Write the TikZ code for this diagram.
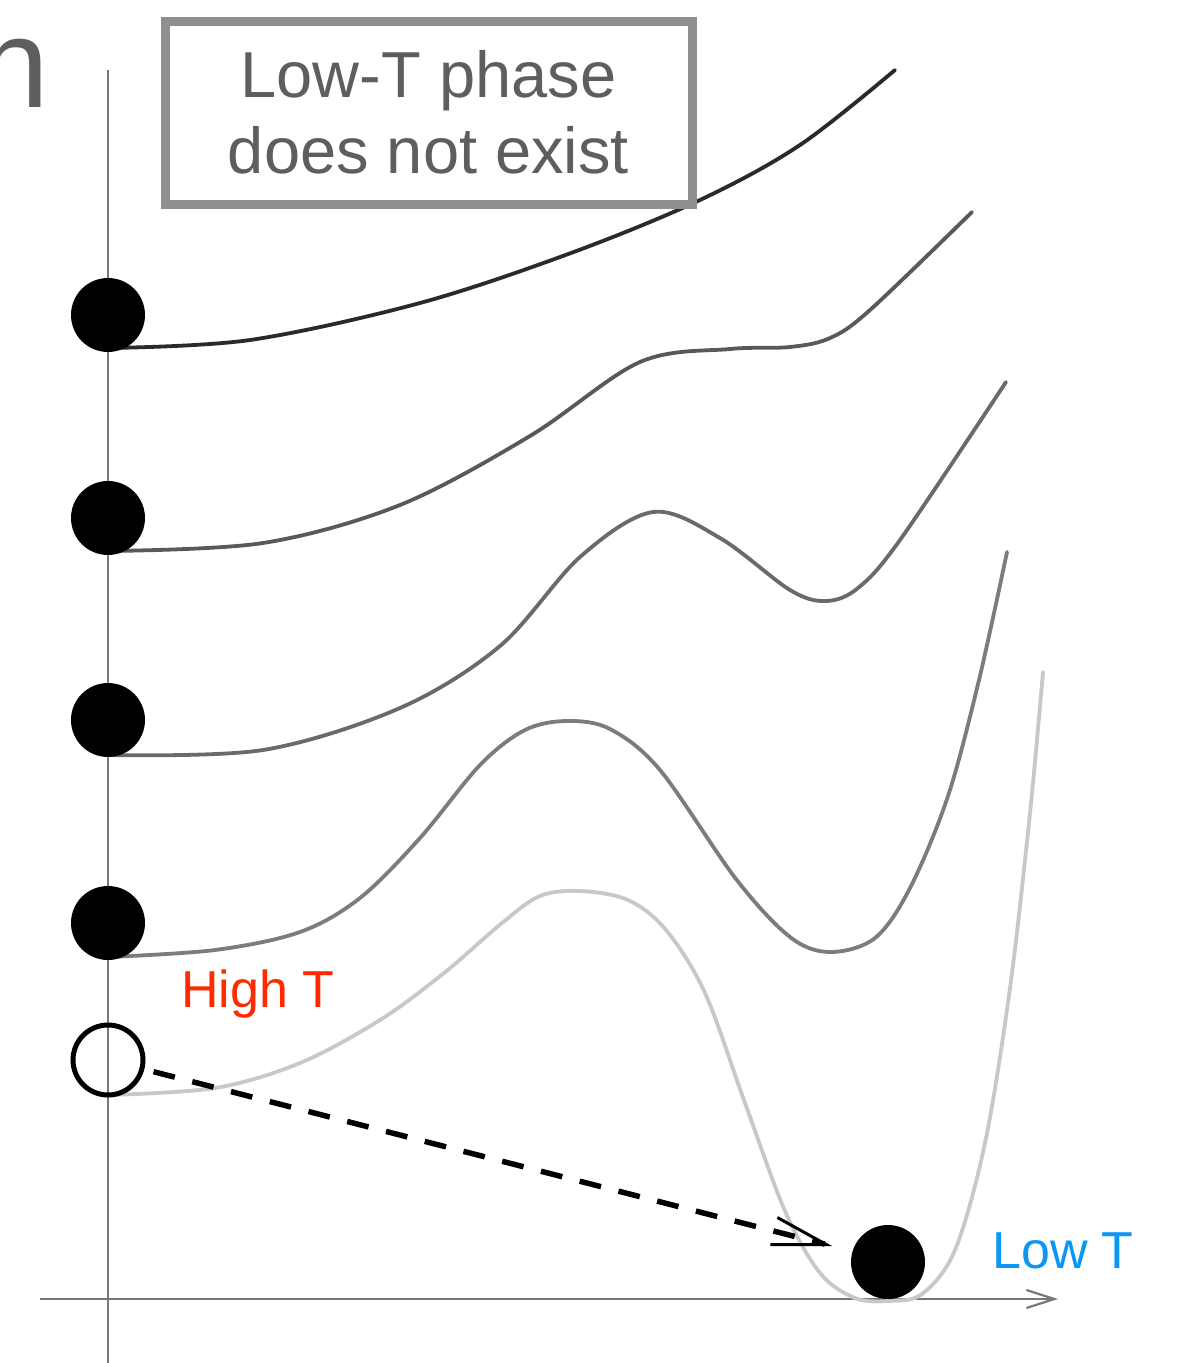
\documentclass[tikz,border=0pt]{standalone}
\usepackage{fontspec}
\setmainfont{Liberation Sans}
\usetikzlibrary{arrows.meta}
\definecolor{axisgray}{HTML}{777777}
\definecolor{boxgray}{HTML}{8F8F8F}
\definecolor{textgray}{HTML}{5E5E5E}
\definecolor{cA}{HTML}{2A2A2A}
\definecolor{cB}{HTML}{595959}
\definecolor{cC}{HTML}{6A6A6A}
\definecolor{cD}{HTML}{7C7C7C}
\definecolor{cE}{HTML}{C8C8C8}
\definecolor{hotred}{HTML}{FF2A00}
\definecolor{coldblue}{HTML}{0A96F5}
\begin{document}
\begin{tikzpicture}[x=1pt,y=-1pt,
  axisline/.style={draw=axisgray,line width=2.2pt},
  curve/.style={line width=3.8pt,line cap=round,line join=round},
  ball/.style={circle,fill=black,minimum size=74pt,inner sep=0pt,outer sep=0pt},
  openball/.style={circle,draw=black,line width=5pt,minimum size=70pt,inner sep=0pt,outer sep=2pt},
  labelbox/.style={draw=boxgray,line width=9pt,fill=white,minimum width=527pt,minimum height=183pt,
    inner sep=0pt,align=center,text=textgray,font=\fontsize{65}{76}\selectfont},
  templabel/.style={anchor=base west,inner sep=0pt,font=\fontsize{52}{60}\selectfont}]
\clip (0,0) rectangle (1178,1363);
\fill[white] (0,0) rectangle (1178,1363);
% partly cut letter at the top-left edge
\node[anchor=base east,inner sep=0pt,text=textgray,font=\fontsize{127}{130}\selectfont] (cut) at (49,107) {n};
% axes
\coordinate (ytop) at (108,70);
\coordinate (ybot) at (108,1370);
\coordinate (xleft) at (40,1299);
\coordinate (xright) at (1058,1299);
\draw[axisline] (ybot) -- (ytop);
\draw[axisline,-{Straight Barb[length=28pt,width=18pt,line width=2.2pt]}] (xleft) -- (xright);
% potential curves
\draw[curve,cA] plot[smooth,tension=0.55] coordinates {(108,348) (250,340) (420,303) (571,253) (700,200) (800,145) (895,70)};
\draw[curve,cB] plot[smooth,tension=0.55] coordinates {(108,551) (263,543) (400,505) (530,436) (640,362) (730,349) (790,347) (830,338) (870,310) (972,212)};
\draw[curve,cC] plot[smooth,tension=0.55] coordinates {(108,755) (263,750) (400,708) (500,646) (580,557) (653,512) (720,538) (790,590) (826,601) (858,588) (900,540) (1006,382)};
\draw[curve,cD] plot[smooth,tension=0.55] coordinates {(108,957) (215,950) (300,932) (360,898) (420,838) (480,765) (525,730) (567,721) (610,729) (660,770) (736,879) (790,937) (830,952) (875,938) (910,888) (948,796) (979,680) (1007,552)};
\draw[curve,cE] plot[smooth,tension=0.55] coordinates {(108,1095) (215,1088) (300,1063) (380,1020) (444,973) (502,923) (540,896) (580,891) (628,900) (666,930) (705,993) (745,1103) (785,1211) (820,1273) (855,1298) (888,1301) (922,1294) (955,1250) (985,1143) (1010,988) (1030,813) (1043,672)};
% balls
\node[ball] (b1) at (108,315) {};
\node[ball] (b2) at (108,518) {};
\node[ball] (b3) at (108,720) {};
\node[ball] (b4) at (108,923) {};
\node[openball] (hot) at (108,1060) {};
\node[ball] (cold) at (888,1262) {};
% dashed transition arrow
\coordinate (tipend) at (832,1246);
\draw[line width=5.5pt,dash pattern=on 22pt off 18pt,shorten <=10pt,
  -{Straight Barb[length=54pt,width=28pt,line width=3pt]}] (hot) -- (tipend);
% labels
\node[labelbox] (box) at (428.5,112.5) {Low-T phase\\does not exist};
\node[templabel,text=hotred] (high) at (181,1007) {High T};
\node[templabel,text=coldblue] (low) at (992,1268) {Low T};
\end{tikzpicture}
\end{document}
